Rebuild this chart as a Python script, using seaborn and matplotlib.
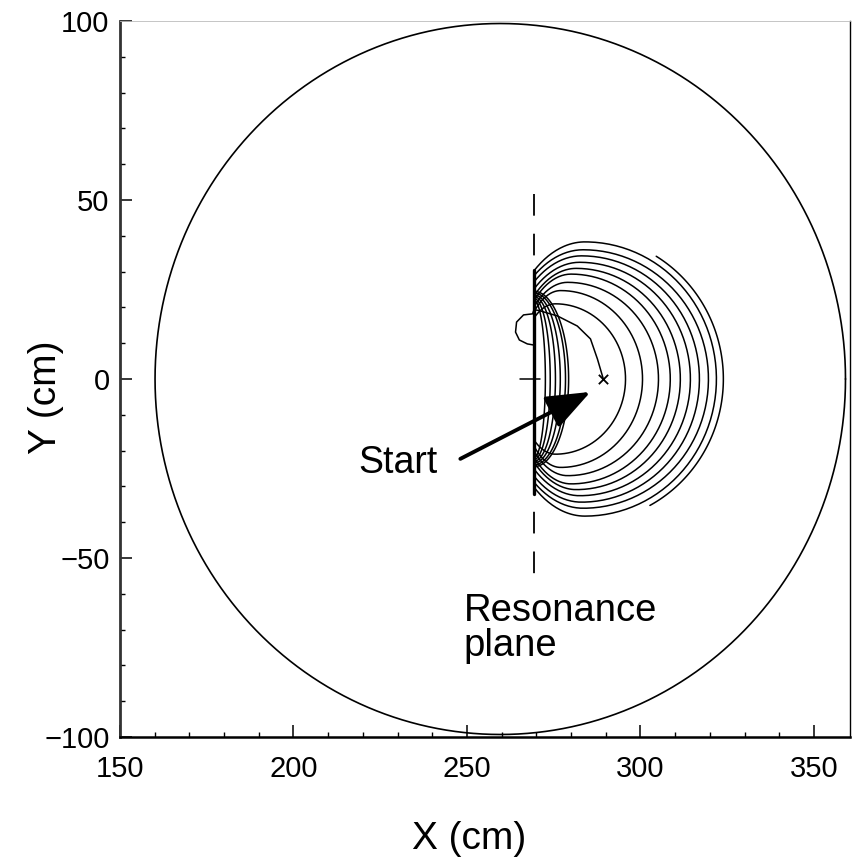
import numpy as np
import pandas as pd
import matplotlib
matplotlib.use("Agg")
import matplotlib.pyplot as plt
import seaborn as sns

# ---------------- data ----------------
x_ticks = [150, 200, 250, 300, 350]
y_ticks = [-100, -50, 0, 50, 100]
x_range = [150, 360.4]
y_range = [-100, 100]

# vessel boundary (circle)
vessel_center = [259.6, 0.0]
vessel_radius = [99.5, 99.3]

# resonance plane
plane_x = 269.3
plane_dash_y = [51.7, -57.0]
plane_solid_y = [30.5, -32.0]

# start point
start_xy = [289.3, 0.0]

# main D-shaped contours (right edge, x of top, half height, height where meeting the plane)
main_right = [295.7, 300.6, 305.2, 308.6, 311.5, 314.4, 317.0, 319.6, 321.9]
main_topx = [275.5, 277.0, 279.0, 280.0, 281.5, 282.5, 283.0, 283.5, 284.0]
main_half = [21.0, 24.7, 27.0, 29.3, 30.9, 32.6, 34.4, 36.1, 38.3]
main_plane = [17.0, 18.7, 20.1, 21.8, 23.2, 25.1, 27.1, 28.8, 30.2]

# thin contours packed against the plane
inner_right = [272.6, 274.0, 275.5, 276.9, 278.4, 279.3]
inner_half = [22.0, 22.5, 23.0, 23.5, 24.0, 24.5]

# outermost, incomplete contour (right edge, x of top, half height, start/end angle in deg)
outer_right = 323.9
outer_topx = 284.0
outer_half = 40.0
outer_angles = [59.0, -62.0]

# first curve from the start point up to the plane
traj_x = [289.3, 287.6, 285.6, 281.8, 276.1, 271.2, 269.3]
traj_y = [0.0, 5.6, 11.2, 14.8, 17.6, 19.0, 19.4]

# small loop left of the plane
loop_x = [269.2, 268.9, 266.3, 264.3, 264.0, 265.1, 267.4, 269.2]
loop_y = [19.0, 18.2, 17.9, 15.9, 13.1, 10.9, 9.8, 9.5]

# short mark at y = 0
mark_x = [265.4, 271.0]
mark_y = [0.0, 0.0]

# arrow
arrow_tail = [248.1, -22.3]
arrow_head = [285.6, -3.6]

# ---------------- build curves ----------------
def d_shape(R, C, B, H, plane):
    t_right = np.linspace(np.pi / 2, -np.pi / 2, 120)
    xr = C + (R - C) * np.cos(t_right)
    yr = B * np.sin(t_right)
    if C - plane <= 0.01:
        return np.concatenate([[plane], xr, [plane]]), np.concatenate([[B], yr, [-B]])
    a_l = (C - plane) / np.sqrt(1 - (H / B) ** 2)
    t_hit = np.arccos(-(C - plane) / a_l)
    t_up = np.linspace(t_hit, np.pi / 2, 40)
    t_dn = np.linspace(-np.pi / 2, -t_hit, 40)
    xu = C + a_l * np.cos(t_up); yu = B * np.sin(t_up)
    xd = C + a_l * np.cos(t_dn); yd = B * np.sin(t_dn)
    return np.concatenate([xu, xr, xd]), np.concatenate([yu, yr, yd])

rows = []
cid = 0
for R, C, B, H in zip(main_right, main_topx, main_half, main_plane):
    xs, ys = d_shape(R, C, B, H, plane_x)
    rows.append(pd.DataFrame({"x": xs, "y": ys, "curve": cid})); cid += 1
for R, B in zip(inner_right, inner_half):
    xs, ys = d_shape(R, plane_x, B, B, plane_x)
    rows.append(pd.DataFrame({"x": xs, "y": ys, "curve": cid})); cid += 1
t = np.radians(np.linspace(outer_angles[0], outer_angles[1], 120))
rows.append(pd.DataFrame({"x": outer_topx + (outer_right - outer_topx) * np.cos(t),
                          "y": outer_half * np.sin(t), "curve": cid})); cid += 1
rows.append(pd.DataFrame({"x": traj_x, "y": traj_y, "curve": cid})); cid += 1
rows.append(pd.DataFrame({"x": loop_x, "y": loop_y, "curve": cid})); cid += 1
rows.append(pd.DataFrame({"x": mark_x, "y": mark_y, "curve": cid})); cid += 1
contours = pd.concat(rows, ignore_index=True)

tc = np.linspace(0, 2 * np.pi, 721)
vessel = pd.DataFrame({"x": vessel_center[0] + vessel_radius[0] * np.cos(tc),
                       "y": vessel_center[1] + vessel_radius[1] * np.sin(tc)})

# ---------------- plot ----------------
sns.set_style("ticks")
plt.rcParams["font.family"] = ["Liberation Sans", "DejaVu Sans"]
plt.rcParams["text.color"] = "black"
plt.rcParams["axes.labelcolor"] = "black"
plt.rcParams["xtick.color"] = "black"
plt.rcParams["ytick.color"] = "black"

fig = plt.figure(figsize=(8.53, 8.59), dpi=100)
ax = fig.add_axes([120 / 853, 1 - 737 / 859, 730 / 853, 716 / 859])

sns.lineplot(data=vessel, x="x", y="y", sort=False, estimator=None,
             color="black", lw=1.2, ax=ax)
sns.lineplot(data=contours, x="x", y="y", units="curve", sort=False,
             estimator=None, color="black", lw=1.1, ax=ax)
ax.plot([plane_x, plane_x], plane_dash_y, color="black", lw=1.3,
        linestyle=(0, (12, 10)))
ax.plot([plane_x, plane_x], plane_solid_y, color="black", lw=2.4)
sns.scatterplot(x=[start_xy[0]], y=[start_xy[1]], marker="x", s=45,
                color="black", linewidth=1.3, ax=ax)

ax.annotate("", xy=arrow_head, xytext=arrow_tail,
            arrowprops=dict(arrowstyle="-|>,head_length=0.9,head_width=0.35",
                            mutation_scale=30, lw=2.8, color="black",
                            shrinkA=0, shrinkB=0))

ax.text(218.7, -26.3, "Start", fontsize=27, va="baseline", ha="left", color="black")
ax.text(249.0, -67.6, "Resonance", fontsize=27.5, va="baseline", ha="left", color="black")
ax.text(249.0, -77.4, "plane", fontsize=27.5, va="baseline", ha="left", color="black")

ax.set_xlim(x_range)
ax.set_ylim(y_range)
ax.set_xticks(x_ticks)
ax.set_yticks(y_ticks)
ax.set_xticklabels([str(v) for v in x_ticks])
ax.set_yticklabels([str(v).replace("-", "\u2212") for v in y_ticks])
ax.set_xticks(np.arange(160, 360, 10), minor=True)
ax.set_yticks(np.arange(-90, 100, 10), minor=True)
for lab in ax.get_xticklabels() + ax.get_yticklabels():
    lab.set_family(["Liberation Sans Narrow", "Liberation Sans"])
    lab.set_fontsize(21)
    lab.set_color("black")
ax.tick_params(axis="both", which="major", direction="in", length=8.5, width=1.1, color="black")
ax.tick_params(axis="both", which="minor", direction="in", length=3.5, width=1.0, color="black")
ax.tick_params(axis="x", which="major", pad=13)
ax.tick_params(axis="y", which="major", pad=7.5)

ax.set_xlabel("X (cm)", fontsize=28, color="black")
ax.set_ylabel("Y (cm)", fontsize=28, color="black")
ax.xaxis.set_label_coords((469 - 120) / 730, (737 - 821) / 716)
ax.yaxis.set_label_coords((64 - 120) / 730, (737 - 397) / 716)

ax.spines["left"].set_linewidth(2.0)
ax.spines["left"].set_color("#333333")
ax.spines["bottom"].set_linewidth(1.8)
ax.spines["bottom"].set_color("black")
ax.spines["top"].set_linewidth(0.6)
ax.spines["top"].set_color("#bbbbbb")
ax.spines["right"].set_linewidth(1.0)
ax.spines["right"].set_color("black")

fig.savefig("out.png", dpi=100)
